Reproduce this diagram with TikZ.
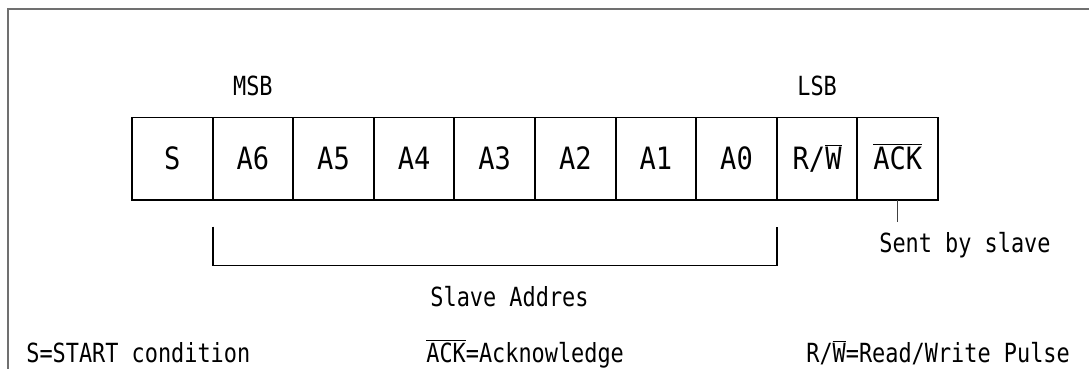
\documentclass[tikz,border=0pt]{standalone}
\usepackage{fontspec}
\usepackage{tikz}
\usetikzlibrary{positioning}
\newfontfamily\diagfont{DejaVu Sans Mono}[FakeStretch=0.83]
\newfontfamily\cellfont{DejaVu Sans Mono}[FakeStretch=0.88]
\definecolor{framegray}{HTML}{707070}

\begin{document}
\begin{tikzpicture}[
  bitcell/.style={rectangle, draw=black, line width=1.1pt,
    minimum width=1.612cm, minimum height=1.65cm, inner sep=0pt, outer sep=0pt,
    text height=0.448cm, text depth=0pt,
    font=\cellfont\fontsize{17.5}{20}\selectfont},
  lbl/.style={inner sep=0pt, text height=0.384cm, text depth=0pt,
    font=\diagfont\fontsize{15}{18}\selectfont},
  wire/.style={line width=1.1pt},
  tick/.style={line width=0.6pt, black!75}
]
\useasboundingbox (0,0) rectangle (21.78,-7.38);

% ---- Outer frame (cut by the page edge) ----
\draw[framegray, line width=0.8pt] (21.78,-0.18) -- (0.16,-0.18) -- (0.16,-7.38);

% ---- Address byte ----
\node[bitcell] (c0) at (3.446,-3.175) {S};
\foreach \lab [count=\i from 1, remember=\i as \j (initially 0)] in
    {A6,A5,A4,A3,A2,A1,A0,{R/$\overline{\mbox{W}}$},{$\overline{\mbox{ACK}}$}} {
  \node[bitcell, right=0pt of c\j] (c\i) {\lab};
}

\node[lbl, above=0.44cm of c1] (msb) {MSB};
\node[lbl, above=0.44cm of c8] (lsb) {LSB};

% ---- Address bracket ----
\draw[wire] ([yshift=-0.53cm]c1.south west) -- ++(0,-0.78)
  -| ([yshift=-0.53cm]c7.south east);
\node[lbl] (addr) at (10.19,-5.94) {Slave Addres};

% ---- Acknowledge tick ----
\draw[tick] (c9.south) -- ++(0,-0.44);
\node[lbl, anchor=west] (sent) at (17.58,-4.86) {Sent by slave};

% ---- Legend ----
\node[lbl, anchor=west] (legs) at (0.52,-7.06) {S=START condition};
\node[lbl, anchor=west] (legack) at (8.52,-7.06) {$\overline{\mbox{ACK}}$=Acknowledge};
\node[lbl, anchor=west] (legrw) at (16.12,-7.06) {R/$\overline{\mbox{W}}$=Read/Write Pulse};

\end{tikzpicture}
\end{document}
